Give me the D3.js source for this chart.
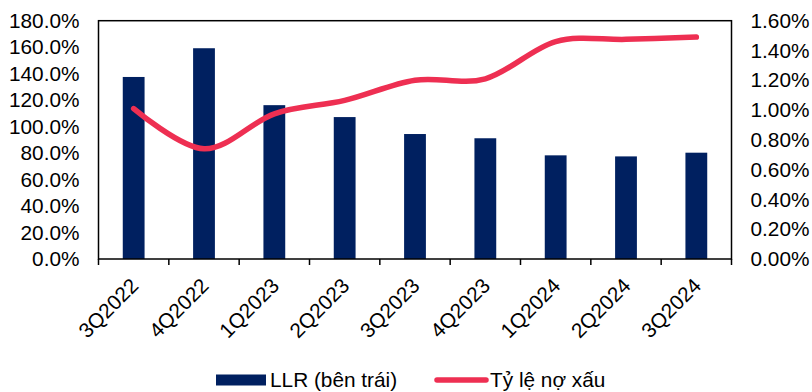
<!DOCTYPE html>
<html>
<head>
<meta charset="utf-8">
<script src="https://cdn.jsdelivr.net/npm/d3@7"></script>
<style>
  html, body { margin: 0; padding: 0; background: #fff; }
  svg { display: block; font-family: "Liberation Sans", Arial, sans-serif; }
</style>
</head>
<body>
<svg id="chart" width="812" height="392"></svg>
<script>
// Quarters shown on the category axis
const categories = ["3Q2022", "4Q2022", "1Q2023", "2Q2023", "3Q2023", "4Q2023", "1Q2024", "2Q2024", "3Q2024"];
// Loan loss reserve coverage (%), left axis
const llr = [137.5, 159.2, 116.2, 107.2, 94.4, 91.2, 78.3, 77.5, 80.3];
// Non-performing loan ratio (%), right axis
const npl = [1.01, 0.74, 0.975, 1.065, 1.20, 1.21, 1.46, 1.475, 1.49];
// Tick values for both value axes
const leftTicks = [0, 20, 40, 60, 80, 100, 120, 140, 160, 180];
const rightTicks = [0, 0.2, 0.4, 0.6, 0.8, 1.0, 1.2, 1.4, 1.6];
// Legend entries
const legendLabels = ["LLR (bên trái)", "Tỷ lệ nợ xấu"];

const barColor = "#002060";
const lineColor = "#EE2F52";
const fontSize = 20.8;

const svg = d3.select("#chart");
const plot = { left: 98.5, right: 731.5, top: 20.7, bottom: 259 };

const x = d3.scaleBand().domain(categories).range([plot.left, plot.right]).padding(0);
const yL = d3.scaleLinear().domain([0, 180]).range([plot.bottom, plot.top]);
const yR = d3.scaleLinear().domain([0, 1.6]).range([plot.bottom, plot.top]);

const barW = x.bandwidth() * 0.31;

// Bars
svg.append("g")
  .selectAll("rect")
  .data(llr)
  .join("rect")
  .attr("x", (d, i) => x(categories[i]) + x.bandwidth() / 2 - barW / 2)
  .attr("y", d => yL(d))
  .attr("width", barW)
  .attr("height", d => yL(0) - yL(d))
  .attr("fill", barColor);

// Smoothed NPL line
const line = d3.line()
  .x((d, i) => x(categories[i]) + x.bandwidth() / 2)
  .y(d => yR(d))
  .curve(d3.curveCatmullRom.alpha(0));

svg.append("path")
  .datum(npl)
  .attr("d", line)
  .attr("fill", "none")
  .attr("stroke", lineColor)
  .attr("stroke-width", 5.5)
  .attr("stroke-linecap", "round")
  .attr("stroke-linejoin", "round");

// Plot frame
svg.append("rect")
  .attr("x", plot.left)
  .attr("y", plot.top)
  .attr("width", plot.right - plot.left)
  .attr("height", plot.bottom - plot.top)
  .attr("fill", "none")
  .attr("stroke", "#000")
  .attr("stroke-width", 1.5);

// Left axis labels
const leftAxis = d3.axisLeft(yL)
  .tickValues(leftTicks)
  .tickSize(0)
  .tickPadding(19)
  .tickFormat(d => d.toFixed(1) + "%");
const gL = svg.append("g").attr("transform", `translate(${plot.left},0)`).call(leftAxis);
gL.select(".domain").remove();
gL.selectAll("text").attr("font-size", fontSize).attr("fill", "#000")
  .attr("font-family", "Liberation Sans, Arial, sans-serif");

// Right axis labels
const rightAxis = d3.axisRight(yR)
  .tickValues(rightTicks)
  .tickSize(0)
  .tickPadding(19)
  .tickFormat(d => d.toFixed(2) + "%");
const gR = svg.append("g").attr("transform", `translate(${plot.right},0)`).call(rightAxis);
gR.select(".domain").remove();
gR.selectAll("text").attr("font-size", fontSize).attr("fill", "#000")
  .attr("font-family", "Liberation Sans, Arial, sans-serif");

// Category axis: tick marks at band boundaries, rotated labels
const bounds = categories.map(c => x(c)).concat([plot.right]);
svg.append("g")
  .selectAll("line")
  .data(bounds)
  .join("line")
  .attr("x1", d => d).attr("x2", d => d)
  .attr("y1", plot.bottom).attr("y2", plot.bottom + 6)
  .attr("stroke", "#000")
  .attr("stroke-width", 1.5);

svg.append("g")
  .selectAll("text")
  .data(categories)
  .join("text")
  .attr("transform", d => `translate(${x(d) + x.bandwidth() / 2 + 6},${plot.bottom + 28}) rotate(-45)`)
  .attr("text-anchor", "end")
  .attr("font-size", fontSize)
  .attr("fill", "#000")
  .text(d => d);

// Legend
const legY = 380;
const leg = svg.append("g");
leg.append("rect")
  .attr("x", 216).attr("y", legY - 5.5)
  .attr("width", 50).attr("height", 11)
  .attr("fill", barColor);
leg.append("text")
  .attr("x", 270).attr("y", legY)
  .attr("dy", "0.36em")
  .attr("font-size", fontSize)
  .attr("fill", "#000")
  .text(legendLabels[0]);
leg.append("line")
  .attr("x1", 437).attr("x2", 486)
  .attr("y1", legY).attr("y2", legY)
  .attr("stroke", lineColor)
  .attr("stroke-width", 5.5)
  .attr("stroke-linecap", "round");
leg.append("text")
  .attr("x", 490).attr("y", legY)
  .attr("dy", "0.36em")
  .attr("font-size", fontSize)
  .attr("fill", "#000")
  .text(legendLabels[1]);
</script>
</body>
</html>
